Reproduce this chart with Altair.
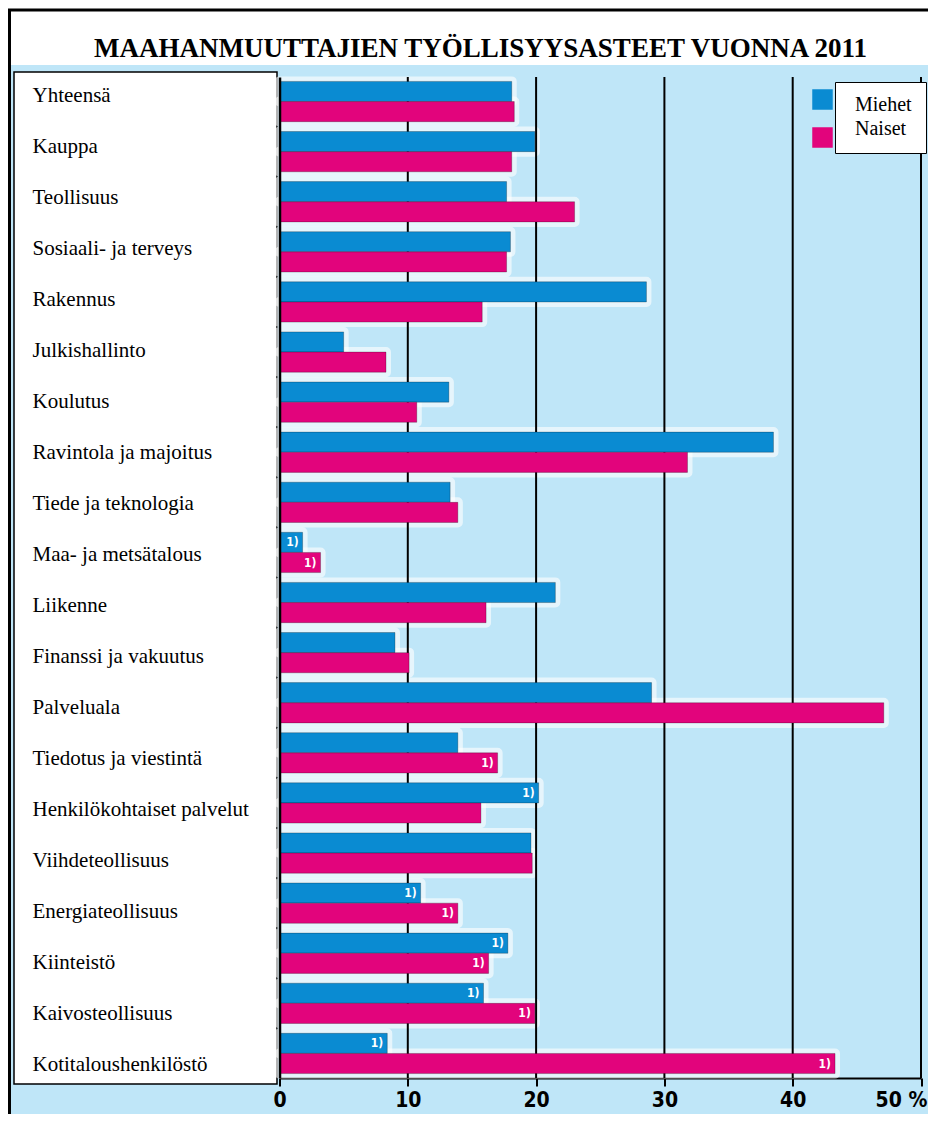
import altair as alt
import pandas as pd

TITLE = "MAAHANMUUTTAJIEN TYÖLLISYYSASTEET VUONNA 2011"
NOTE = "1)"
categories = [
    "Yhteensä", "Kauppa", "Teollisuus", "Sosiaali- ja terveys", "Rakennus",
    "Julkishallinto", "Koulutus", "Ravintola ja majoitus", "Tiede ja teknologia",
    "Maa- ja metsätalous", "Liikenne", "Finanssi ja vakuutus", "Palveluala",
    "Tiedotus ja viestintä", "Henkilökohtaiset palvelut", "Viihdeteollisuus",
    "Energiateollisuus", "Kiinteistö", "Kaivosteollisuus", "Kotitaloushenkilöstö",
]
series = ["Miehet", "Naiset"]
miehet = [18.1, 19.9, 17.7, 18.0, 28.6, 5.0, 13.2, 38.5, 13.3, 1.8,
          21.5, 9.0, 29.0, 13.9, 20.2, 19.6, 11.0, 17.8, 15.9, 8.4]
naiset = [18.3, 18.1, 23.0, 17.7, 15.8, 8.3, 10.7, 31.8, 13.9, 3.2,
          16.1, 10.1, 47.1, 17.0, 15.7, 19.7, 13.9, 16.3, 19.9, 43.3]
miehet_note = [False] * 9 + [True] + [False] * 4 + [True, False, True, True, True, True]
naiset_note = [False] * 9 + [True] + [False] * 3 + [True, False, False, True, True, True, True]
ticks = [0, 10, 20, 30, 40, 50]

BLUE = "#0a8bd2"
MAGENTA = "#e2047c"
BG = "#bfe6f8"
SERIF = "Liberation Serif, Times New Roman, serif"
NARROW = "Liberation Sans Narrow, Arial Narrow, DejaVu Sans Condensed, sans-serif"

rows = []
for i, c in enumerate(categories):
    rows.append({"category": c, "series": series[0], "value": miehet[i], "note": miehet_note[i]})
    rows.append({"category": c, "series": series[1], "value": naiset[i], "note": naiset_note[i]})
df = pd.DataFrame(rows)
tick_df = pd.DataFrame({"tick": ticks[1:]})
title_df = pd.DataFrame({"title": [TITLE]})
one = pd.DataFrame({"k": [0]})

W, H = 641.5, 1001

x_enc = alt.X(
    "value:Q",
    scale=alt.Scale(domain=[0, 50], nice=False, zero=True),
    axis=alt.Axis(
        values=ticks, grid=False, title=None,
        domainColor="black", domainWidth=2,
        tickColor="black", tickWidth=2, tickSize=8,
        labelFont=NARROW, labelFontSize=21, labelFontWeight="bold",
        labelColor="black", labelPadding=3, labelFlush=False, labelOverlap=False,
        labelExpr="datum.value == 50 ? '50 %' : datum.label",
        labelOffset={"expr": "datum.value == 50 ? -20 : 0"},
    ),
)
y_enc = alt.Y(
    "category:N", sort=categories,
    scale=alt.Scale(paddingInner=0.196, paddingOuter=0.088),
    axis=alt.Axis(
        title=None, ticks=False, domain=True, domainColor="black", domainWidth=2.5,
        labelAlign="left", labelPadding=247.5, labelFont=SERIF, labelFontSize=21,
        labelColor="black", labelLimit=300, zindex=1,
        labelOffset={"expr": "-5.5 + datum.index * 17.5"},
    ),
)
yoff_enc = alt.YOffset("series:N", sort=series, scale=alt.Scale(paddingInner=0, paddingOuter=0))

title_strip = alt.Chart(one).mark_rect(color="white").encode(
    x=alt.value(-271.5), x2=alt.value(700), y=alt.value(-69), y2=alt.value(-12))
frame = alt.Chart(one).mark_rect(fill=None, fillOpacity=0, stroke="black", strokeWidth=3).encode(
    x=alt.value(-270), x2=alt.value(720), y=alt.value(-67), y2=alt.value(1100))
label_box = alt.Chart(one).mark_rect(fill="white", stroke="black", strokeWidth=1.5).encode(
    x=alt.value(-265.5), x2=alt.value(-2.5), y=alt.value(-5), y2=alt.value(1007))

halo = alt.Chart(df).mark_bar(fill="white", stroke="white", strokeWidth=10,
                              strokeJoin="round", opacity=0.62).encode(
    x=x_enc, y=y_enc, yOffset=yoff_enc)
grid = alt.Chart(tick_df).mark_rule(color="black", strokeWidth=2).encode(x=alt.X("tick:Q"))
bars = alt.Chart(df).mark_bar(stroke="black", strokeOpacity=0.25, strokeWidth=1).encode(
    x=x_enc, y=y_enc, yOffset=yoff_enc,
    color=alt.Color(
        "series:N", sort=series,
        scale=alt.Scale(domain=series, range=[BLUE, MAGENTA]),
        legend=alt.Legend(
            orient="none", legendX=532.5, legendY=12, title=None,
            symbolType="square", symbolSize=420, symbolStrokeWidth=0,
            symbolOpacity=1, rowPadding=17, padding=0, labelExpr="''",
            labelFontSize=2,
        ),
    ),
)
notes = alt.Chart(df).transform_filter("datum.note").mark_text(
    align="right", baseline="middle", dx=-4, color="white",
    font=NARROW, fontSize=12, fontWeight="bold").encode(
    x=x_enc, y=y_enc, yOffset=yoff_enc, text=alt.value(NOTE))
legend_labels = alt.Chart(df).mark_point(opacity=0, filled=True).encode(
    x=x_enc, y=y_enc, yOffset=yoff_enc,
    fill=alt.Fill(
        "series:N", sort=series,
        scale=alt.Scale(domain=series, range=["white", "white"]),
        legend=alt.Legend(
            orient="none", legendX=555.5, legendY=5, title=None,
            symbolSize=0, symbolOpacity=0, symbolStrokeWidth=0,
            fillColor="white", strokeColor="black", padding=13.4,
            labelOffset={"expr": "-13.4"}, rowPadding=3.5, labelFont=SERIF, labelFontSize=20,
            labelColor="black", labelExpr="datum.label + '        '",
        ),
    ),
)
title_text = alt.Chart(title_df).mark_text(
    font=SERIF, fontSize=27, fontWeight="bold", align="center",
    baseline="alphabetic", color="black").encode(
    x=alt.value(201), y=alt.value(-20), text="title:N")

chart = alt.layer(
    title_strip, frame, label_box, halo, grid, bars, notes, legend_labels, title_text
).properties(
    width=W, height=H,
    padding={"left": 271.5, "top": 69, "right": 7, "bottom": 36},
    autosize=alt.AutoSizeParams(type="none"),
    background=BG,
).resolve_legend(color="independent", fill="independent").configure_view(fill=BG, stroke=None)

chart.save("out.html", embed_options={"renderer": "svg", "actions": False})
